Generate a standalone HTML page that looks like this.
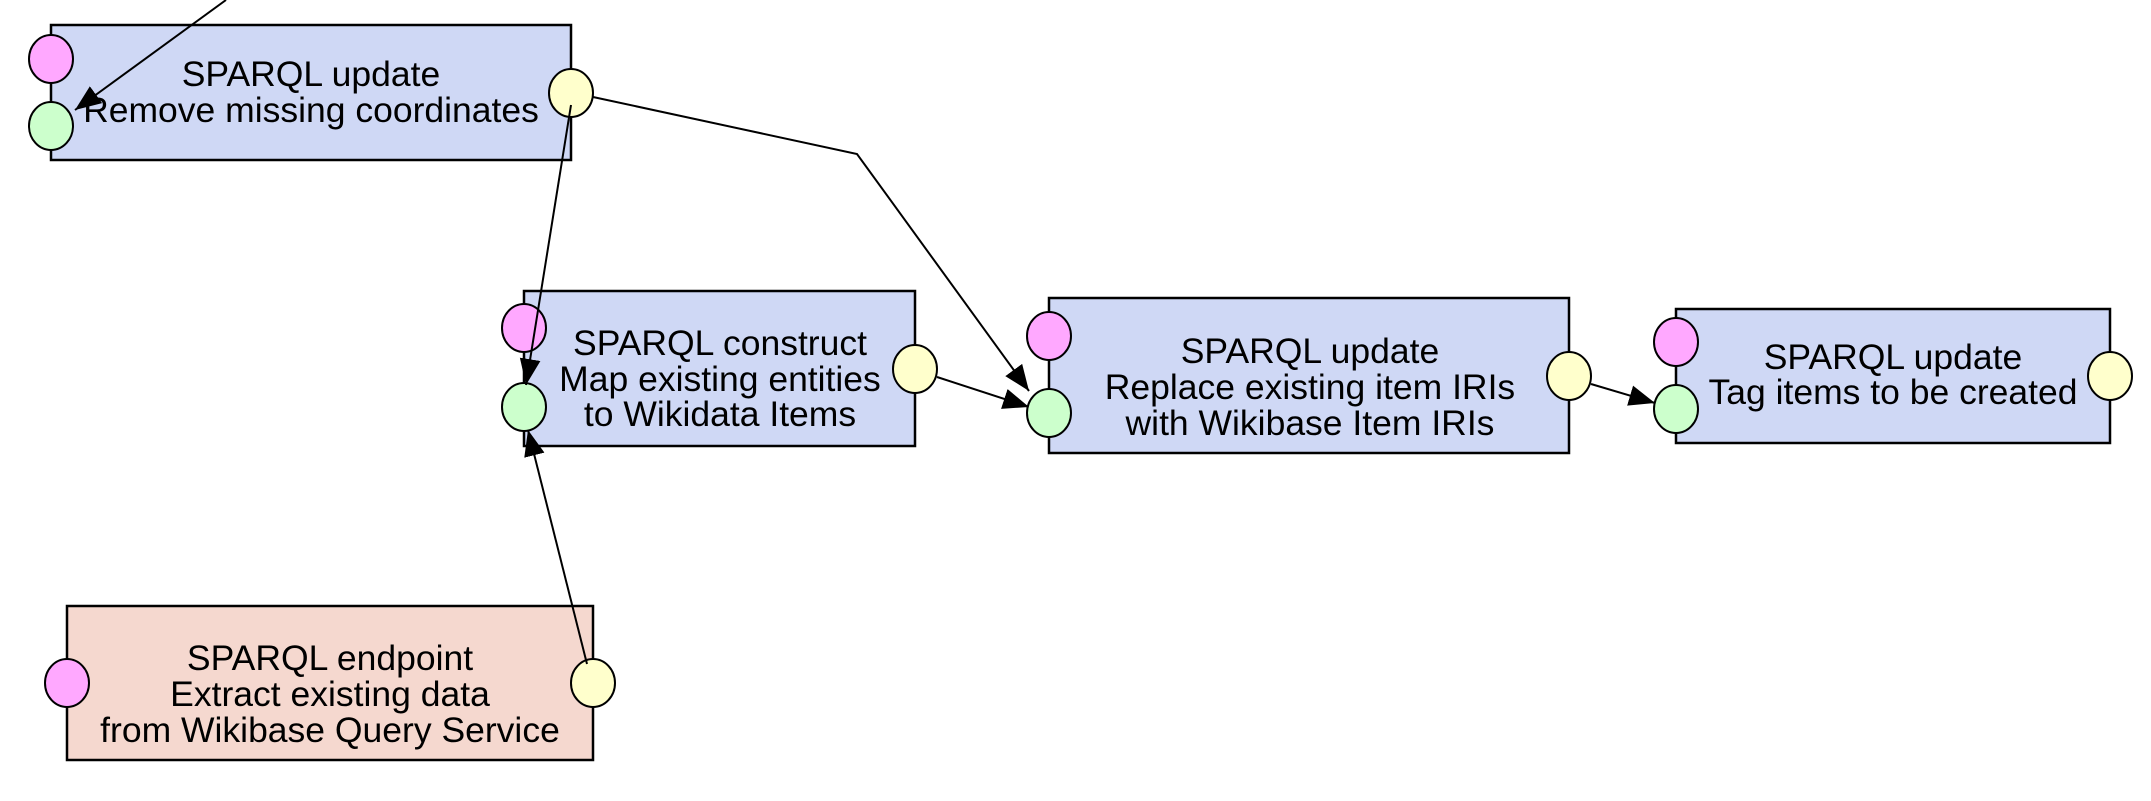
<!DOCTYPE html>
<html><head><meta charset="utf-8"><style>body{margin:0;background:#fff}svg{display:block}</style></head><body>
<svg width="2151" height="801" viewBox="0 0 2151 801" xmlns="http://www.w3.org/2000/svg" font-family="Liberation Sans, sans-serif" font-size="35.5" text-anchor="middle">
<defs>
<marker id="b" viewBox="0 0 10 10" refX="10" refY="5" markerWidth="26" markerHeight="26" markerUnits="userSpaceOnUse" orient="auto"><path d="M0,1L10,5L0,9z" fill="#000"/></marker></defs>
<g stroke="#000" stroke-width="2.5">
<rect x="51" y="25" width="520" height="135" fill="#cfd8f5"/>
<rect x="524" y="291" width="391" height="155" fill="#cfd8f5"/>
<rect x="1049" y="298" width="520" height="155" fill="#cfd8f5"/>
<rect x="1676" y="309" width="434" height="134" fill="#cfd8f5"/>
<rect x="67" y="606" width="526" height="154" fill="#f5d8cf"/>
</g>
<g fill="#000">
<text x="311" y="86">SPARQL update</text><text x="311" y="122">Remove missing coordinates</text>
<text x="720" y="355">SPARQL construct</text><text x="720" y="391">Map existing entities</text><text x="720" y="426">to Wikidata Items</text>
<text x="1310" y="363">SPARQL update</text><text x="1310" y="399">Replace existing item IRIs</text><text x="1310" y="435">with Wikibase Item IRIs</text>
<text x="1893" y="369">SPARQL update</text><text x="1893" y="404">Tag items to be created</text>
<text x="330" y="670">SPARQL endpoint</text><text x="330" y="706">Extract existing data</text><text x="330" y="742">from Wikibase Query Service</text>
</g>
<g stroke="#000" stroke-width="2" fill="none">
<polyline points="593,97 857,154 1029,391" marker-end="url(#b)"/>
<line x1="937" y1="377" x2="1029" y2="407" marker-end="url(#b)"/>
<line x1="1591" y1="384" x2="1655" y2="403" marker-end="url(#b)"/>
</g>
<g stroke="#000" stroke-width="2">
<ellipse cx="51" cy="59" rx="22" ry="24" fill="#ffa8ff"/><ellipse cx="51" cy="126" rx="22" ry="24" fill="#ccffcc"/><ellipse cx="571" cy="93" rx="22" ry="24" fill="#ffffcc"/>
<ellipse cx="524" cy="328" rx="22" ry="24" fill="#ffa8ff"/><ellipse cx="524" cy="407" rx="22" ry="24" fill="#ccffcc"/><ellipse cx="915" cy="369" rx="22" ry="24" fill="#ffffcc"/>
<ellipse cx="1049" cy="336" rx="22" ry="24" fill="#ffa8ff"/><ellipse cx="1049" cy="413" rx="22" ry="24" fill="#ccffcc"/><ellipse cx="1569" cy="376" rx="22" ry="24" fill="#ffffcc"/>
<ellipse cx="1676" cy="342" rx="22" ry="24" fill="#ffa8ff"/><ellipse cx="1676" cy="409" rx="22" ry="24" fill="#ccffcc"/><ellipse cx="2110" cy="376" rx="22" ry="24" fill="#ffffcc"/>
<ellipse cx="67" cy="683" rx="22" ry="24" fill="#ffa8ff"/><ellipse cx="593" cy="683" rx="22" ry="24" fill="#ffffcc"/>
</g>
<g stroke="#000" stroke-width="2" fill="none">
<line x1="226" y1="0" x2="75" y2="110" marker-end="url(#b)"/>
<line x1="571" y1="105" x2="526" y2="385" marker-end="url(#b)"/>
<line x1="587" y1="664" x2="528" y2="430" marker-end="url(#b)"/>
</g>
</svg>
</body></html>
